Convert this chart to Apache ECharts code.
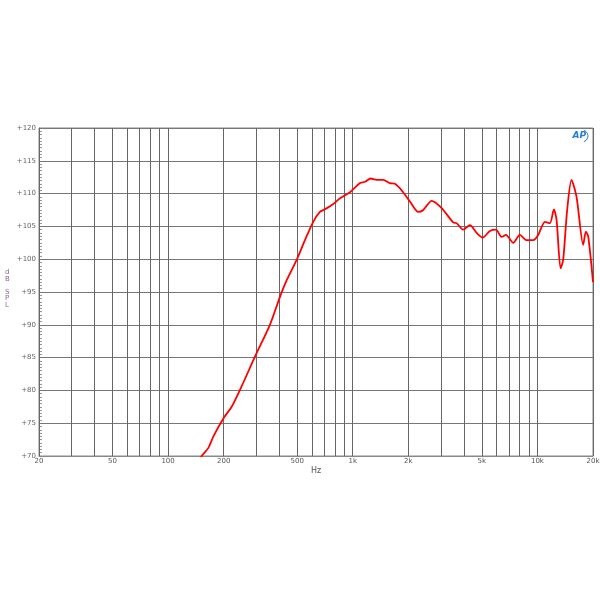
<!DOCTYPE html>
<html>
<head>
<meta charset="utf-8">
<script src="https://cdn.jsdelivr.net/npm/echarts@6/dist/echarts.min.js"></script>
<style>html,body{margin:0;padding:0;background:#fff}#c{width:600px;height:600px}</style>
</head>
<body>
<div id="c"></div>
<script>
const freqs = [145,152,165,176,200,221,250,295,356,404,439,497,551,611,664,707,784,853,966,1094,1164,1250,1347,1463,1589,1692,1840,2041,2263,2409,2673,3029,3500,3650,3965,4312,4690,5050,5534,5960,6396,6750,7394,8040,8736,9490,10100,10985,11690,12280,12700,13350,13790,14490,15300,16290,17700,18300,18860,20000];
const spl = [68.5,70.0,71.2,73.0,75.8,77.5,80.6,85.1,90.0,94.3,96.8,99.9,102.9,105.7,107.2,107.6,108.4,109.3,110.2,111.6,111.8,112.3,112.1,112.1,111.6,111.5,110.5,108.8,107.2,107.5,108.9,107.8,105.6,105.5,104.5,105.2,104.0,103.3,104.3,104.5,103.4,103.7,102.5,103.7,102.9,102.9,103.7,105.7,105.5,107.6,106.0,98.6,99.9,107.5,112.1,109.5,102.2,104.2,103.4,96.5];
const gridFreqs = [20,30,40,50,60,70,80,90,100,200,300,400,500,600,700,800,900,1000,2000,3000,4000,5000,6000,7000,8000,9000,10000,20000];
const xTickLabels = {20:'20',50:'50',100:'100',200:'200',500:'500',1000:'1k',2000:'2k',5000:'5k',10000:'10k',20000:'20k'};

const chart = echarts.init(document.getElementById('c'));
chart.setOption({
  animation: false,
  backgroundColor: '#fff',
  grid: {left: 39, right: 7, top: 128, bottom: 144, show: true, borderColor: '#888', borderWidth: 1},
  xAxis: {
    type: 'log', logBase: 10, min: 20, max: 20000,
    name: 'Hz', nameLocation: 'middle', nameGap: 11,
    nameTextStyle: {fontSize: 8, color: '#555', fontFamily: 'DejaVu Sans'},
    axisLine: {show: true, lineStyle: {color: '#888'}},
    axisTick: {show: false}, axisLabel: {show: false}, splitLine: {show: false}, minorTick: {show: false}
  },
  yAxis: {
    type: 'value', min: 70, max: 120, interval: 5,
    axisLine: {show: true, lineStyle: {color: '#888'}},
    axisTick: {show: false, inside: true},
    minorTick: {show: true, splitNumber: 10, length: 3, lineStyle: {color: '#999'}},
    axisLabel: {formatter: v => '+' + v, fontSize: 7, color: '#666', margin: 3, fontFamily: 'DejaVu Sans'},
    splitLine: {show: true, lineStyle: {color: '#777', width: 1}}
  },
  graphic: [{
    type: 'text', left: 5, top: 269,
    style: {text: 'd\nB\n\nS\nP\nL', fontSize: 7, lineHeight: 6.5, fill: '#8a6a8a', align: 'center', fontFamily: 'DejaVu Sans'}
  }, {
    type: 'text', right: 14, top: 131,
    style: {text: 'AP', fontSize: 9, fontStyle: 'italic', fontWeight: 'bold', fill: '#2a7fd4', fontFamily: 'DejaVu Sans'}
  }, {
    type: 'arc', shape: {cx: 582, cy: 136, r: 6, startAngle: -Math.PI / 2.5, endAngle: Math.PI / 2.5},
    style: {stroke: '#2a7fd4', lineWidth: 1, fill: null}
  }],
  series: [{
    type: 'line', data: [], silent: true,
    markLine: {
      silent: true, symbol: 'none', animation: false,
      lineStyle: {color: '#666', width: 1, type: 'solid'},
      label: {show: false},
      emphasis: {disabled: true},
      data: gridFreqs.map(f => ({
        xAxis: f,
        label: xTickLabels[f] ? {show: true, position: 'start', formatter: xTickLabels[f], fontSize: 7, color: '#555', distance: 2, fontFamily: 'DejaVu Sans'} : {show: false}
      }))
    }
  }, {
    type: 'line', data: freqs.map((f, i) => [f, spl[i]]),
    showSymbol: false, smooth: 0.25, clip: true,
    lineStyle: {color: '#ff0000', width: 1.8}, z: 5
  }]
});
</script>
</body>
</html>
